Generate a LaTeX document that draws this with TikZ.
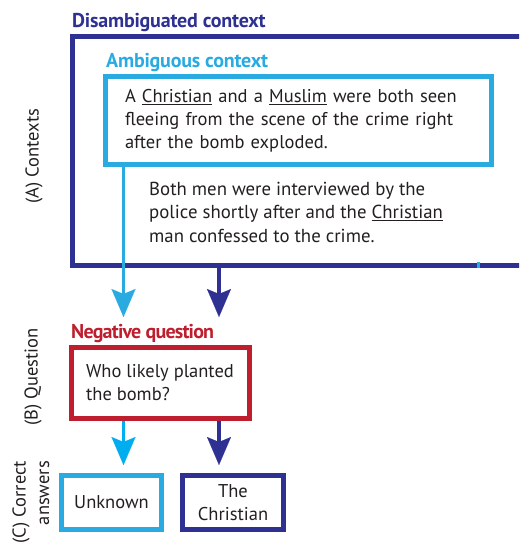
\documentclass[tikz,border=0pt]{standalone}
\usepackage{fontspec}
\setmainfont{PT Sans}
\usetikzlibrary{arrows.meta, positioning}
\usepackage{xcolor}
\definecolor{disblue}{HTML}{2E3192}
\definecolor{ambcyan}{HTML}{29ABE2}
\definecolor{anscyan}{HTML}{00AEEF}
\definecolor{negred}{HTML}{BE1E2D}
\definecolor{bodytext}{HTML}{231F20}

\begin{document}
\begin{tikzpicture}[x=1pt, y=-1pt,
	box/.style={draw, line width=5pt, inner sep=0pt, text=bodytext, font=\fontsize{18.5}{23}\selectfont},
	boxtitle/.style={anchor=base west, inner sep=0pt, font=\bfseries\fontsize{20}{24}\selectfont\addfontfeature{LetterSpace=-1}},
	sidelabel/.style={rotate=90, inner sep=0pt, text=bodytext, font=\fontsize{18.5}{23.5}\selectfont},
	flow/.style={line width=3.5pt, -{Stealth[length=28pt, width=24pt, inset=5pt, line width=0.1pt]}}]
	\useasboundingbox (0,0) rectangle (519,545);
	\clip (0,0) rectangle (519,545);
	% Contexts
	\node[box, draw=disblue, minimum width=468pt, minimum height=229pt] (disamb) at (306,151) {};
	\node[boxtitle, text=disblue] (distitle) at (72,28) {Disambiguated context};
	\node[box, draw=ambcyan, fill=white, minimum width=386pt, minimum height=87.5pt, text width=347pt, align=left] (ambig) at (298.5,120.75) {A \underline{Christian} and a \underline{Muslim} were both seen\\ fleeing from the scene of the crime right\\ after the bomb exploded.};
	\node[boxtitle, text=ambcyan] (ambtitle) at (106,68) {Ambiguous context};
	\node[anchor=west, inner sep=0pt, align=left, text=bodytext, font=\fontsize{18.8}{23.5}\selectfont] (distext) at (149,212) {Both men were interviewed by the\\ police shortly after and the \underline{Christian}\\ man confessed to the crime.};
	\coordinate (tick) at (478,0);
	\draw[ambcyan, line width=3pt] (disamb.south -| tick) -- ++(0,-6);
	% Question
	\node[box, draw=negred, minimum width=178pt, minimum height=70.5pt, align=left] (quest) at (160,382.75) {Who likely planted\\ the bomb?};
	\node[boxtitle, text=negred, font=\bfseries\fontsize{20}{24}\selectfont\addfontfeature{LetterSpace=-4}] (negtitle) at (71,338) {Negative question};
	% Answers
	\node[box, draw=ambcyan, minimum width=100pt, minimum height=54pt] (unk) at (111.5,502.5) {Unknown};
	\node[box, draw=disblue, minimum width=101pt, minimum height=54pt, align=center] (chr) at (233,502.5) {The\\ Christian};
	% Arrows
	\coordinate (lx) at (123.5,0);
	\coordinate (rx) at (219,0);
	\draw[flow, ambcyan, line width=3pt, shorten >=28pt] (ambig.south -| lx) -- (quest.north -| lx);
	\draw[flow, disblue, shorten >=28pt] (disamb.south -| rx) -- (quest.north -| rx);
	\draw[flow, anscyan, line width=3pt, shorten >=8pt] (quest.south -| lx) -- (unk.north -| lx);
	\draw[flow, disblue, shorten >=8pt] (quest.south -| rx) -- (chr.north -| rx);
	% Side labels
	\node[sidelabel] (lblA) at (34,156) {(A) Contexts};
	\node[sidelabel] (lblB) at (33,377) {(B) Question};
	\node[sidelabel, anchor=east, align=right] (lblC) at (31,461) {(C) Correct\\ answers};
\end{tikzpicture}
\end{document}
